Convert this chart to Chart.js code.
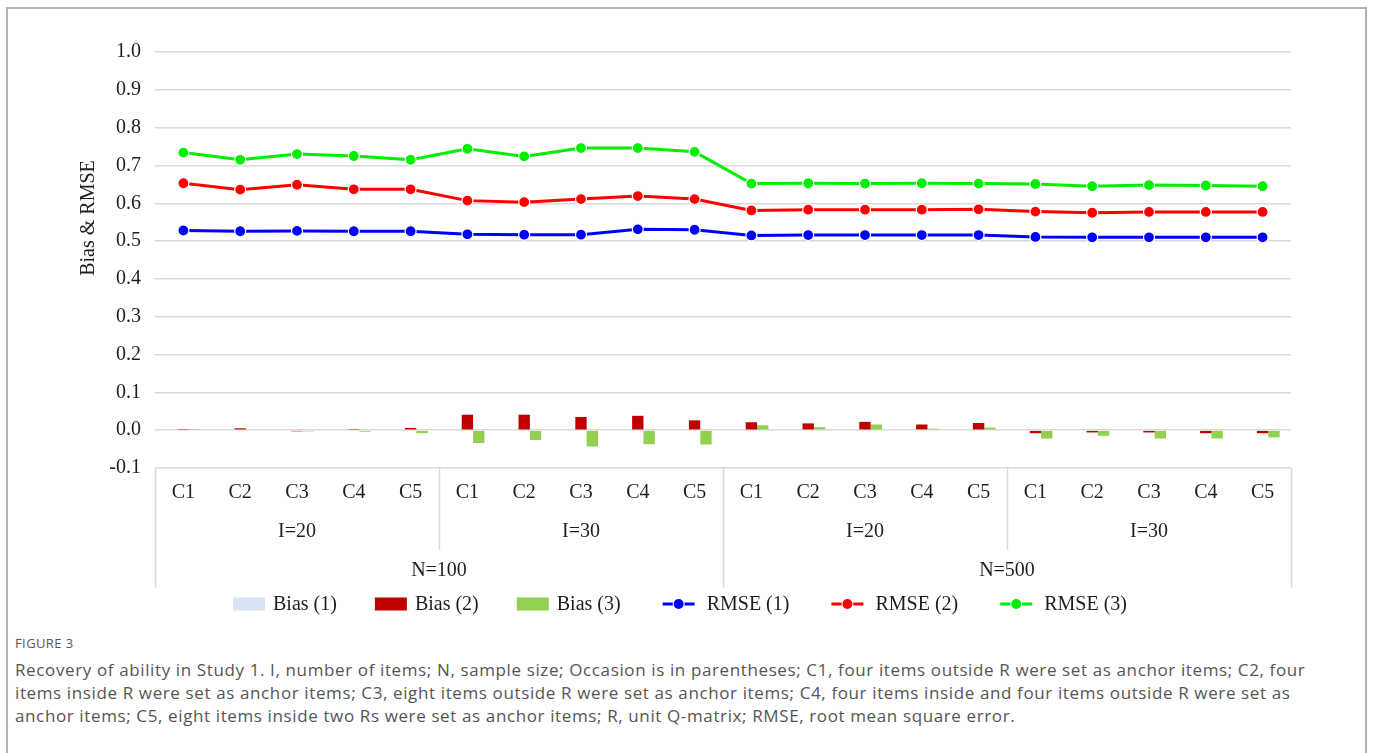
<!DOCTYPE html>
<html>
<head>
<meta charset="utf-8">
<script src="https://cdn.jsdelivr.net/npm/chart.js@4.4.0/dist/chart.umd.min.js"></script>
<style>
  html, body { margin: 0; padding: 0; background: #fff; overflow: hidden; }
  body { width: 1375px; height: 753px; position: relative; }
  #frame { position: absolute; left: 6px; top: 7px; width: 1361px; height: 800px;
           border: 2px solid #b3b3b3; box-sizing: border-box; }
  #chart { position: absolute; left: 0; top: 0; }
  #figlabel { position: absolute; left: 15px; top: 634px; font: 13px "Open Sans";
              color: #555; letter-spacing: 0.4px; }
  #caption { position: absolute; left: 15px; top: 658px; font: 17px/23px "Open Sans";
             color: #555; white-space: nowrap; letter-spacing: 0.62px; }
</style>
</head>
<body>
<div id="frame"></div>
<canvas id="chart" width="1375" height="630"></canvas>
<div id="figlabel">FIGURE 3</div>
<div id="caption">Recovery of ability in Study 1. I, number of items; N, sample size; Occasion is in parentheses; C1, four items outside R were set as anchor items; C2, four<br>items inside R were set as anchor items; C3, eight items outside R were set as anchor items; C4, four items inside and four items outside R were set as<br>anchor items; C5, eight items inside two Rs were set as anchor items; R, unit Q-matrix; RMSE, root mean square error.</div>

<script>
// Category hierarchy: condition (C1..C5) within item count (I) within sample size (N)
const categories = ['C1','C2','C3','C4','C5','C1','C2','C3','C4','C5',
                    'C1','C2','C3','C4','C5','C1','C2','C3','C4','C5'];
const itemGroups = ['I=20', 'I=30', 'I=20', 'I=30'];
const sampleGroups = ['N=100', 'N=500'];

// Bias per occasion (bars)
const bias1 = [-0.002,-0.002,-0.002,-0.002,-0.002,-0.002,-0.002,-0.002,-0.002,-0.002,
               -0.002,-0.002,-0.002,-0.002,-0.002, 0.002, 0.002, 0.002, 0.002, 0.002];
const bias2 = [0.003, 0.005,-0.003, 0.003, 0.006, 0.041, 0.041, 0.035, 0.038, 0.026,
               0.021, 0.018, 0.022, 0.015, 0.019,-0.008,-0.006,-0.006,-0.008,-0.008];
const bias3 = [0.003, 0.002,-0.003,-0.004,-0.008,-0.034,-0.026,-0.043,-0.037,-0.038,
               0.013, 0.008, 0.015, 0.004, 0.007,-0.022,-0.015,-0.022,-0.022,-0.019];

// RMSE per occasion (lines)
const rmse1 = [0.528,0.526,0.527,0.526,0.526,0.518,0.517,0.517,0.531,0.530,
               0.515,0.516,0.516,0.516,0.516,0.511,0.510,0.510,0.510,0.510];
const rmse2 = [0.653,0.636,0.649,0.637,0.637,0.607,0.603,0.611,0.619,0.611,
               0.581,0.583,0.583,0.583,0.584,0.578,0.575,0.577,0.577,0.577];
const rmse3 = [0.734,0.715,0.730,0.725,0.715,0.744,0.724,0.746,0.746,0.736,
               0.652,0.653,0.652,0.653,0.652,0.651,0.645,0.648,0.647,0.645];

const yTitle = 'Bias & RMSE';
const serif = '"Liberation Serif", "Times New Roman", serif';
const tickFont = { family: serif, size: 20 };
const inkColor = '#1e1e1e';
const ruleColor = '#d9d9d9';

// Multi-level category table under the plot area
const categoryTable = {
  id: 'categoryTable',
  afterDraw(chart) {
    const { ctx, chartArea, scales: { x } } = chart;
    const n = categories.length;
    const top = chartArea.bottom;
    const rowI = top + 82, rowN = top + 120;
    const edge = i => x.getPixelForValue(i - 0.5);
    ctx.save();
    ctx.strokeStyle = ruleColor;
    ctx.lineWidth = 1.5;
    const vline = (px, bottom) => {
      ctx.beginPath(); ctx.moveTo(Math.round(px) + 0.5, top); ctx.lineTo(Math.round(px) + 0.5, bottom); ctx.stroke();
    };
    const perI = n / itemGroups.length, perN = n / sampleGroups.length;
    for (let g = 0; g <= sampleGroups.length; g++) vline(edge(g * perN), rowN);
    for (let g = 1; g < itemGroups.length; g++) if ((g * perI) % perN !== 0) vline(edge(g * perI), rowI);
    ctx.fillStyle = inkColor;
    ctx.font = '20px ' + serif;
    ctx.textAlign = 'center';
    ctx.textBaseline = 'middle';
    itemGroups.forEach((lab, g) => {
      ctx.fillText(lab, (edge(g * perI) + edge((g + 1) * perI)) / 2, top + 64);
    });
    sampleGroups.forEach((lab, g) => {
      ctx.fillText(lab, (edge(g * perN) + edge((g + 1) * perN)) / 2, top + 103);
    });
    ctx.restore();
  }
};

// Rotated y-axis title
const axisTitle = {
  id: 'axisTitle',
  afterDraw(chart) {
    const ctx = chart.ctx;
    ctx.save();
    ctx.translate(89, 218);
    ctx.rotate(-Math.PI / 2);
    ctx.fillStyle = inkColor;
    ctx.font = '20px ' + serif;
    ctx.textAlign = 'center';
    ctx.textBaseline = 'middle';
    ctx.fillText(yTitle, 0, 0);
    ctx.restore();
  }
};

// Legend row: filled boxes for bars, line-with-marker for RMSE series
const seriesLegend = {
  id: 'seriesLegend',
  afterDraw(chart) {
    const ctx = chart.ctx;
    ctx.save();
    ctx.font = '20px ' + serif;
    const y = 604, gap = 8, space = 38;
    const items = chart.data.datasets.map(ds => ({
      ds, icon: ds.type === 'line' ? 40 : 32, w: ctx.measureText(ds.label).width
    }));
    const total = items.reduce((s, it) => s + it.icon + gap + it.w, 0) + space * (items.length - 1);
    let x = 680 - total / 2;
    items.forEach(it => {
      const ds = it.ds;
      if (ds.type === 'line') {
        ctx.strokeStyle = ds.borderColor; ctx.lineWidth = 3;
        ctx.beginPath(); ctx.moveTo(x + 4, y); ctx.lineTo(x + it.icon - 4, y); ctx.stroke();
        ctx.beginPath(); ctx.arc(x + it.icon / 2, y, 5, 0, Math.PI * 2);
        ctx.fillStyle = ds.borderColor; ctx.fill();
        ctx.strokeStyle = '#fff'; ctx.lineWidth = 2; ctx.stroke();
        ctx.beginPath(); ctx.arc(x + it.icon / 2, y, 5, 0, Math.PI * 2);
        ctx.fillStyle = ds.borderColor; ctx.fill();
      } else {
        ctx.fillStyle = ds.backgroundColor;
        ctx.fillRect(x, y - 6.5, it.icon, 13);
      }
      x += it.icon + gap;
      ctx.fillStyle = inkColor;
      ctx.textAlign = 'left';
      ctx.textBaseline = 'middle';
      ctx.fillText(ds.label, x, y + 1);
      x += it.w + space;
    });
    ctx.restore();
  }
};

const lineSeries = (label, data, color) => ({
  type: 'line', label, data, order: 0,
  borderColor: color, backgroundColor: color, borderWidth: 3,
  pointRadius: 5.5, pointBackgroundColor: color, pointBorderColor: '#ffffff', pointBorderWidth: 1.2,
  tension: 0
});
const barSeries = (label, data, color) => ({
  type: 'bar', label, data, order: 1, backgroundColor: color, borderWidth: 0,
  categoryPercentage: 0.6, barPercentage: 1.0
});

new Chart(document.getElementById('chart'), {
  type: 'bar',
  data: {
    labels: categories,
    datasets: [
      barSeries('Bias (1)', bias1, '#dae3f3'),
      barSeries('Bias (2)', bias2, '#c00000'),
      barSeries('Bias (3)', bias3, '#92d050'),
      lineSeries('RMSE (1)', rmse1, '#0000ff'),
      lineSeries('RMSE (2)', rmse2, '#ff0000'),
      lineSeries('RMSE (3)', rmse3, '#00ee00')
    ]
  },
  options: {
    responsive: false,
    animation: false,
    layout: { padding: { left: 0, right: 84, top: 52, bottom: 40 } },
    plugins: { legend: { display: false }, tooltip: { enabled: false } },
    scales: {
      x: {
        offset: true,
        grid: { display: false, drawTicks: false },
        border: { display: false },
        ticks: { font: tickFont, color: inkColor, padding: 13, maxRotation: 0, autoSkip: false },
        afterFit(s) { s.height = 122; }
      },
      y: {
        min: -0.1, max: 1.0,
        ticks: { stepSize: 0.1, font: tickFont, color: inkColor, padding: 14,
                 callback: v => v.toFixed(1) },
        grid: { color: ruleColor, lineWidth: 1.5, drawTicks: false },
        border: { display: false },
        afterFit(s) { s.width = 155; }
      }
    }
  },
  plugins: [categoryTable, axisTitle, seriesLegend]
});
</script>
</body>
</html>
